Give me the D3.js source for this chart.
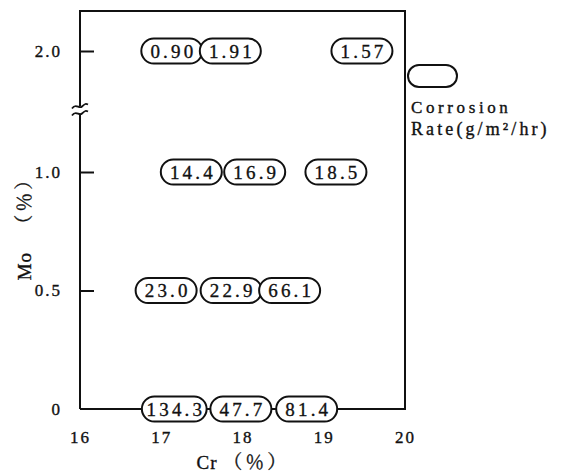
<!DOCTYPE html>
<html>
<head>
<meta charset="utf-8">
<script src="https://cdn.jsdelivr.net/npm/d3@7"></script>
<style>
  body { margin: 0; background: #fff; }
</style>
</head>
<body>
<script>
  var w = 567
  var h = 476
  var serif = "'Liberation Serif'"
  var cjk = "'Noto Serif CJK JP'"

  // data
  var xTicks = [16, 17, 18, 19, 20]
  var yTicks = [0, 0.5, 1.0, 2.0]
  var yTickLabels = ["0", "0.5", "1.0", "2.0"]

  var moLevels = [2.0, 2.0, 2.0, 1.0, 1.0, 1.0, 0.5, 0.5, 0.5, 0, 0, 0]
  var crPos = [17.13, 17.85, 19.47, 17.37, 18.15, 19.15, 17.06, 17.86, 18.58, 17.16, 17.98, 18.79]
  var rates = ["0.90", "1.91", "1.57", "14.4", "16.9", "18.5", "23.0", "22.9", "66.1", "134.3", "47.7", "81.4"]

  var points = rates.map(function (r, i) {
      return { cr: crPos[i], mo: moLevels[i], rate: r }
  })

  //SCALES
  var x = d3.scaleLinear().domain([16, 20]).range([80, 405])
  // broken axis: 0..1 is linear, then jumps to 2.0
  var y = d3.scaleLinear().domain([0, 1, 2]).range([409, 172, 51])

  var svg = d3.select("body").append("svg")
      .attr("width", w)
      .attr("height", h)

  // helper: serif text, slightly heavy like the printed original
  var ink = function (sel, size, spacing) {
      return sel.attr("fill", "#111")
          .attr("stroke", "#111")
          .attr("stroke-width", 0.35)
          .style("font-family", serif)
          .style("font-size", size + "px")
          .style("letter-spacing", spacing + "px")
  }

  //FRAME
  svg.append("path")
      .attr("d", "M" + x(16) + "," + y(0) + "V11H" + x(20) + "V" + y(0) + "H" + x(16))
      .attr("fill", "none")
      .attr("stroke", "#111")
      .attr("stroke-width", 2)

  // axis break
  var by = 110
  svg.append("rect")
      .attr("x", x(16) - 4).attr("y", by - 4)
      .attr("width", 8).attr("height", 8)
      .attr("fill", "#fff")
  ;[-3.5, 3.5].forEach(function (dy) {
      svg.append("path")
          .attr("d", "M" + (x(16) - 8) + "," + (by + dy + 2) +
              " C" + (x(16) - 4) + "," + (by + dy - 4) + " " + (x(16) - 1) + "," + (by + dy + 3) + " " + (x(16) + 2) + "," + (by + dy) +
              " S" + (x(16) + 6) + "," + (by + dy - 3) + " " + (x(16) + 8) + "," + (by + dy - 2))
          .attr("fill", "none")
          .attr("stroke", "#111")
          .attr("stroke-width", 1.8)
  })

  //AXES
  var xAxis = svg.append("g")
      .attr("transform", "translate(0," + y(0) + ")")
      .call(d3.axisBottom(x).tickValues(xTicks).tickSize(0).tickPadding(22).tickFormat(d3.format("d")))
  xAxis.select(".domain").remove()

  var yAxis = svg.append("g")
      .attr("transform", "translate(" + x(16) + ",0)")
      .call(d3.axisLeft(y).tickValues(yTicks).tickSize(-14).tickPadding(18)
          .tickFormat(function (d, i) { return yTickLabels[i] }))
  yAxis.select(".domain").remove()
  yAxis.selectAll(".tick line").attr("stroke", "#111").attr("stroke-width", 2)
  yAxis.selectAll(".tick").filter(function (d) { return d === 0 }).select("line").remove()

  ink(svg.selectAll(".tick text"), 17, 2)

  //OVALS
  var ovals = svg.selectAll("g.oval")
      .data(points)
      .enter()
      .append("g")
      .attr("class", "oval")
      .attr("transform", function (d) {
          return "translate(" + x(d.cr) + "," + y(d.mo) + ")"
      })

  ovals.append("rect")
      .attr("fill", "#fff")
      .attr("stroke", "#111")
      .attr("stroke-width", 2)

  ink(ovals.append("text"), 19, 3.2)
      .text(function (d) { return d.rate })
      .attr("text-anchor", "middle")
      .attr("dx", 1.6)
      .attr("dy", "0.35em")

  ovals.each(function () {
      var g = d3.select(this)
      var bw = g.select("text").node().getBBox().width
      var ow = Math.max(bw + 6, 61), oh = 25
      g.select("rect")
          .attr("x", -ow / 2).attr("y", -oh / 2)
          .attr("width", ow).attr("height", oh)
          .attr("rx", oh / 2).attr("ry", oh / 2)
  })

  //LEGEND
  svg.append("rect")
      .attr("x", 408).attr("y", 65)
      .attr("width", 49).attr("height", 22)
      .attr("rx", 11)
      .attr("fill", "none")
      .attr("stroke", "#111")
      .attr("stroke-width", 2)

  ink(svg.append("text"), 17, 3.6)
      .attr("x", 411).attr("y", 113)
      .text("Corrosion")

  ink(svg.append("text"), 18, 3.1)
      .attr("x", 411).attr("y", 135)
      .text("Rate(g/m²/hr)")

  //AXIS TITLES
  var xt = ink(svg.append("text"), 19, 1)
      .attr("x", 243).attr("y", 469)
      .attr("text-anchor", "middle")
  xt.append("tspan").text("Cr ")
  xt.append("tspan").style("font-family", cjk).style("font-size", "19px").style("letter-spacing", "3px").text("（％）")

  var yt = ink(svg.append("text"), 19, 1)
      .attr("transform", "translate(31,224) rotate(-90)")
      .attr("text-anchor", "middle")
  yt.append("tspan").text("Mo ")
  yt.append("tspan").style("font-family", cjk).style("font-size", "19px").style("letter-spacing", "3px").text("　（％）")
</script>
</body>
</html>
